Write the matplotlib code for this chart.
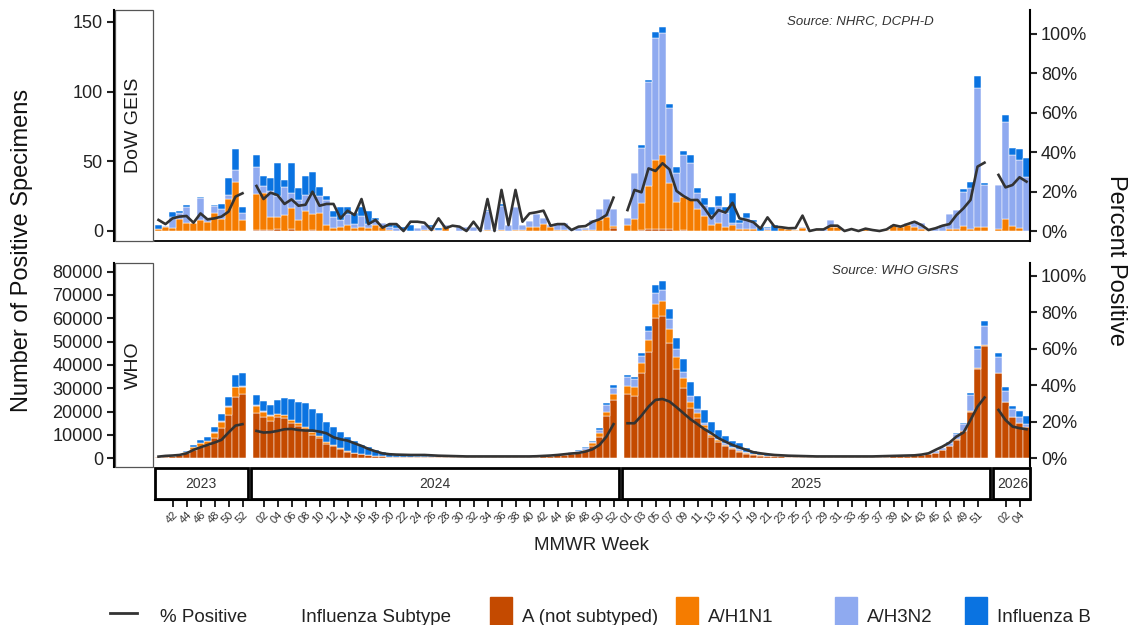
import numpy as np
import matplotlib.pyplot as plt
from matplotlib.patches import Rectangle
from matplotlib.lines import Line2D

plt.rcParams['font.family'] = ['Liberation Sans', 'DejaVu Sans']

W, H = 1130, 625

# seasons on the x axis: (year, first MMWR week, last MMWR week)
seasons = [(2023, 40, 52), (2024, 1, 52), (2025, 1, 52), (2026, 1, 5)]
tick_weeks = {2023: [42, 44, 46, 48, 50, 52],
              2024: list(range(2, 53, 2)),
              2025: list(range(1, 52, 2)),
              2026: [2, 4]}

subtypes = ['A (not subtyped)', 'A/H1N1', 'A/H3N2', 'Influenza B']
colors = ['#C44A00', '#F57C00', '#8FAAF0', '#0A73E1']

# ---- DoW GEIS (counts) : 2023 wk40-52 | 2024 wk1-52 | 2025 wk1-52 | 2026 wk1-5
geis_a = [
    0, 0, 0, 0, 0, 0, 0, 0, 0, 0, 0, 0, 0,
    1, 1, 0.7, 1.2, 0, 1.2, 0, 0, 0.7, 0,
    0, 0, 0, 0, 0, 0, 0, 0, 0, 0,
    0, 0, 0, 0, 0, 0, 0, 0, 0, 0,
    0, 0, 0, 0, 0, 0, 0, 0, 0, 0,
    0, 0, 0, 0, 0, 0, 0, 0, 0, 0,
    0, 2,
    0, 0, 0.7, 1.2, 1.7, 1.7, 1.2, 0, 0.7, 0,
    0, 0, 0, 0, 0, 0, 0, 0, 0, 0,
    0, 0, 0, 0, 0, 0, 0, 0, 0, 0,
    0, 0, 0, 0, 0, 0, 0, 0, 0, 0,
    0, 0, 0, 0, 0, 0, 0, 0, 0, 0,
    0, 0,
    0, 0, 0, 0, 0]
geis_h1n1 = [
    1.2, 3.0, 2.4, 8.6, 6.0, 6.0, 7.9, 6.7, 12.7, 8.6, 22.7, 35.4, 7.9,
    25.6, 26.5, 9.3, 9.1, 11.5, 15.1, 7.9, 14.6, 11.3, 12.7,
    4.3, 1.9, 3.1, 4.3, 2.0, 3.0, 2.0, 4.0, 3.0, 1.0,
    0, 0, 0, 0, 1.0, 1.0, 0, 3.0, 0, 0,
    0, 0, 0, 1.0, 0, 1.0, 0, 1.0, 1.0, 3.0,
    3.0, 5.0, 3.0, 1.0, 1.0, 0, 0, 1.0, 1.0, 8.0,
    10.0, 1.5,
    4.3, 8.4, 19.1, 31.1, 49.3, 52.6, 33.0, 21.1, 23.9, 22.7,
    15.6, 10.8, 4.3, 5.5, 2.6, 4.3, 1.7, 1.7, 1.5, 0,
    1.0, 0, 1.9, 1.4, 0.7, 1.9, 0, 0.5, 0, 3.1,
    2.6, 0, 0, 0.5, 1.7, 0, 0, 0.5, 4.3, 3.0,
    4.0, 3.0, 1.7, 0.5, 0, 0, 1.7, 1.7, 3.6, 1.7,
    2.6, 2.6,
    1.2, 8.4, 3.6, 1.9, 0]
geis_h3n2 = [
    0, 0.6, 7.9, 4.5, 11.5, 0, 15.5, 2.5, 5.5, 7.2, 3.1, 8.4, 4.8,
    19.1, 4.8, 18.7, 14.8, 20.0, 10.8, 14.4, 11.2, 14.4, 12.7,
    18.0, 8.4, 4.8, 8.0, 3.0, 8.0, 3.0, 4.0, 3.0, 2.0,
    2.0, 1.0, 0, 2.0, 3.0, 2.0, 1.0, 1.0, 0, 3.0,
    3.0, 3.0, 1.0, 13.0, 1.0, 17.0, 4.0, 16.0, 3.0, 4.0,
    9.0, 4.0, 1.0, 5.0, 5.0, 0.5, 2.0, 1.0, 7.0, 8.0,
    13.0, 12.0,
    4.8, 33.0, 39.5, 74.9, 87.3, 88.0, 53.8, 20.8, 29.7, 25.8,
    12.0, 7.9, 7.2, 12.4, 10.0, 1.7, 4.3, 7.4, 5.0, 0,
    1.0, 0, 0, 0, 0, 1.2, 0.7, 0.7, 1.4, 4.8,
    0, 0.5, 0, 0.5, 0, 0.5, 0.5, 0.5, 0, 1.3,
    2.0, 4.4, 4.3, 0.2, 1.9, 4.3, 10.5, 13.4, 24.6, 29.0,
    99.8, 30.4,
    31.8, 70.0, 51.0, 49.0, 39.0]
geis_b = [
    3.1, 0, 3.4, 1.2, 1.2, 0, 0.8, 0, 0.5, 3.8, 12.0, 14.8, 4.8,
    8.9, 7.2, 9.1, 23.4, 4.8, 21.5, 8.4, 13.6, 15.6, 6.0,
    3.1, 4.0, 9.6, 5.0, 8.0, 6.0, 9.0, 1.0, 0, 2.0,
    2.0, 2.0, 4.0, 0, 0, 1.0, 1.0, 0, 0, 0,
    0, 0, 0, 1.0, 0, 1.0, 0, 0, 0, 0,
    0, 0, 0, 0, 0, 1.0, 0, 0, 0, 0,
    0, 0,
    0, 0.5, 2.4, 1.2, 4.3, 3.8, 3.1, 4.3, 3.3, 5.7,
    3.1, 4.8, 6.0, 7.4, 4.8, 21.5, 1.9, 3.6, 1.4, 3.1,
    0.6, 4.3, 0, 0, 0, 0, 0, 0, 0, 0,
    0, 0, 0, 0, 0, 0, 0, 0, 0, 0,
    0, 0, 0, 0, 0, 0, 0, 0, 1.7, 4.8,
    8.9, 1.7,
    0, 4.8, 5.3, 7.9, 13.6]
geis_pct = [
    5.6, 3.5, 6.4, 7.3, 7.6, 4.2, 8.9, 5.9, 6.4, 7.3, 9.8, 17.4, 19.1,
    22.8, 16.2, 19.4, 18.2, 13.7, 16.0, 12.8, 13.3, 19.9, 12.8,
    13.7, 13.7, 6.4, 10.3, 8.1, 16.2, 3.5, 5.6, 1.7, 3.5,
    3.5, 0, 4.7, 4.7, 4.2, 0.5, 6.4, 1.4, 2.7, 2.2,
    0, 4.7, 0, 16.2, 0, 20.8, 3.0, 20.8, 4.7, 8.9,
    9.5, 10.3, 2.7, 3.5, 3.5, 0.5, 2.2, 2.5, 4.7, 5.9,
    8.1, 16.9,
    10.6, 20.8, 19.6, 31.7, 30.4, 34.3, 31.2, 20.3, 17.7, 15.7,
    15.7, 11.5, 6.4, 10.6, 9.3, 14.3, 6.4, 5.6, 4.4, 1.2,
    6.9, 2.2, 1.9, 1.4, 1.5, 7.8, 0, 0.8, 0.8, 2.7,
    2.7, 0, 1.0, 0, 1.2, 0.5, 0, 0.8, 3.0, 2.2,
    3.5, 4.7, 3.0, 0.5, 1.4, 2.7, 3.5, 8.1, 11.5, 15.7,
    32.6, 34.6,
    28.4, 22.1, 23.3, 27.2, 25.0]

# ---- WHO GISRS (counts)
who_a = [
    500, 700, 900, 1200, 2200, 3570, 5000, 5714, 8571, 12860, 18570, 26430, 27570,
    19560, 17860, 16140, 17570, 17140, 15290, 13860, 12430, 10000, 8570,
    6140, 5290, 3860, 2860, 2140, 1860, 1430, 1070, 870, 700,
    670, 630, 600, 580, 600, 580, 550, 520, 500, 480,
    480, 470, 470, 470, 480, 500, 520, 550, 600, 650,
    720, 840, 980, 1240, 1500, 2000, 2400, 3200, 5420, 9290,
    18290, 25010,
    27430, 26710, 36430, 45710, 60000, 61000, 49280, 38150, 29990, 21420,
    17150, 12850, 9290, 7140, 5290, 3860, 2860, 2000, 1500, 1100,
    1010, 900, 780, 750, 700, 670, 650, 620, 600, 600,
    600, 600, 600, 620, 650, 650, 700, 750, 820, 900,
    1000, 1200, 1400, 1900, 2430, 3570, 5230, 8000, 11560, 20000,
    38140, 48290,
    36420, 24090, 17760, 15190, 13470]
who_h1n1 = [
    100, 150, 200, 250, 400, 1140, 1430, 1710, 2430, 2860, 3570, 4000, 3140,
    2860, 2140, 2000, 1430, 1430, 1140, 1140, 1140, 1430, 1000,
    1000, 430, 430, 290, 290, 0, 0, 0, 0, 0,
    0, 0, 0, 0, 0, 0, 0, 0, 0, 0,
    0, 0, 0, 0, 0, 0, 0, 0, 0, 0,
    0, 0, 0, 0, 0, 160, 300, 400, 1000, 1430,
    1710, 2570,
    3570, 3710, 4290, 5000, 6140, 6570, 6000, 5430, 4290, 2860,
    2140, 1430, 850, 570, 560, 420, 420, 270, 140, 140,
    0, 0, 0, 0, 0, 0, 0, 0, 0, 0,
    0, 0, 0, 0, 0, 0, 0, 0, 0, 0,
    0, 0, 0, 0, 0, 0, 0, 270, 300, 150,
    430, 290,
    300, 200, 100, 100, 100]
who_h3n2 = [
    50, 50, 80, 100, 200, 200, 200, 200, 300, 300, 300, 300, 300,
    430, 300, 300, 0, 0, 0, 0, 0, 0, 0,
    0, 0, 0, 0, 0, 0, 0, 0, 0, 0,
    0, 0, 0, 0, 0, 0, 0, 0, 0, 0,
    0, 0, 0, 0, 0, 0, 0, 0, 0, 0,
    0, 0, 0, 0, 200, 400, 570, 710, 710, 1430,
    2860, 2710,
    3710, 3430, 3140, 3860, 4860, 4570, 4290, 3140, 2860, 2430,
    1710, 1000, 570, 570, 570, 430, 570, 300, 200, 100,
    100, 80, 60, 0, 0, 0, 0, 0, 0, 0,
    0, 0, 0, 0, 0, 50, 50, 100, 130, 190,
    240, 300, 360, 430, 570, 860, 1430, 2140, 3000, 7140,
    8290, 8140,
    6570, 4710, 3140, 2570, 1140]
who_b = [
    64, 100, 106, 164, 343, 804, 1227, 1662, 1985, 2980, 3990, 4980, 5420,
    4290, 4290, 4290, 6000, 7430, 8860, 9000, 10000, 9570, 9710,
    8570, 7860, 7140, 6140, 5000, 3850, 3280, 2500, 1700, 1160,
    900, 800, 690, 560, 540, 420, 400, 380, 350, 320,
    300, 280, 260, 250, 240, 240, 240, 250, 250, 270,
    280, 300, 310, 330, 300, 300, 300, 400, 300, 710,
    710, 1000,
    860, 860, 1140, 2140, 3290, 3860, 4430, 4710, 5290, 5860,
    5710, 5430, 5000, 3860, 3290, 2860, 2860, 2000, 1300, 800,
    600, 450, 300, 250, 200, 180, 150, 130, 120, 100,
    100, 100, 100, 100, 100, 50, 50, 50, 50, 50,
    50, 70, 100, 100, 140, 140, 200, 300, 430, 570,
    1430, 2140,
    1710, 1710, 1430, 2430, 3430]
who_pct = [
    0.9, 1.3, 1.5, 1.8, 2.7, 4.6, 6.0, 7.3, 8.6, 10.1, 14.1, 17.9, 18.7,
    15.0, 14.1, 14.3, 15.0, 15.9, 16.1, 15.5, 15.2, 15.2, 14.6,
    13.7, 11.5, 10.4, 9.7, 8.2, 6.8, 5.1, 3.8, 2.7, 2.2,
    2.0, 1.9, 1.8, 1.8, 1.8, 1.6, 1.4, 1.3, 1.2, 1.1,
    1.0, 1.0, 1.0, 1.0, 1.0, 1.0, 1.0, 1.0, 1.0, 1.0,
    1.1, 1.3, 1.5, 1.8, 2.2, 2.6, 2.9, 3.7, 4.9, 7.3,
    11.9, 18.7,
    19.2, 19.2, 23.4, 28.3, 32.0, 32.5, 31.1, 28.0, 24.7, 21.4,
    18.7, 15.9, 13.7, 11.0, 9.1, 7.3, 5.9, 4.6, 3.3, 2.7,
    2.2, 1.8, 1.6, 1.4, 1.3, 1.2, 1.1, 1.0, 1.0, 1.0,
    1.0, 1.0, 1.0, 1.0, 1.0, 1.0, 1.1, 1.2, 1.3, 1.4,
    1.5, 1.6, 2.0, 2.7, 4.6, 6.4, 8.6, 11.9, 14.1, 21.0,
    28.3, 33.3,
    26.5, 21.0, 17.4, 16.5, 15.9]

# x positions: one slot per week, one empty slot between years
xpos, seg = [], []
start = 0
for yr, w0, w1 in seasons:
    n = w1 - w0 + 1
    seg.append((yr, start, start + n - 1, w0))
    xpos += list(range(start, start + n))
    start += n + 1
xpos = np.array(xpos)
xmin, xmax = -0.5, xpos[-1] + 0.5


def px(x0, y0, x1, y1):
    return [x0 / W, 1 - y1 / H, (x1 - x0) / W, (y1 - y0) / H]


fig = plt.figure(figsize=(W / 100, H / 100), dpi=100)


def panel(rect, lab_rect, stacks, pct, ylim, plim, yticks, label, bottom_line):
    ax = fig.add_axes(px(*rect))
    base = np.zeros(len(xpos))
    for vals, col in zip(stacks, colors):
        vals = np.asarray(vals, float)
        ax.bar(xpos, vals, bottom=base, width=0.88, color=col,
               edgecolor='white', linewidth=0.35)
        base += vals
    ax.set_xlim(xmin, xmax)
    ax.set_ylim(*ylim)
    for s in ax.spines.values():
        s.set_visible(False)
    if bottom_line:
        ax.spines['bottom'].set_visible(True)
        ax.spines['bottom'].set_linewidth(1.3)

    ax2 = ax.twinx()
    pct = np.asarray(pct, float)
    for yr, i0, i1, w0 in seg:
        m = (xpos >= i0) & (xpos <= i1)
        ax2.plot(xpos[m], pct[m], color='#333333', lw=1.9)
    ax2.set_ylim(*plim)
    ax2.set_yticks([0, 20, 40, 60, 80, 100])
    ax2.set_yticklabels([f'{v}%' for v in [0, 20, 40, 60, 80, 100]])
    for k, s in ax2.spines.items():
        s.set_visible(k == 'right')
    ax2.spines['right'].set_linewidth(1.5)
    ax2.tick_params(axis='y', direction='out', length=5, width=1.5,
                    labelsize=13, pad=3, colors='#222222', left=False)
    ax2.tick_params(axis='x', bottom=False, labelbottom=False)
    # twinx turns the left ticks of the bar axes back on
    ax.tick_params(left=False, labelleft=False, bottom=False,
                   labelbottom=False, right=False, labelright=False)

    axl = fig.add_axes(px(*lab_rect))
    axl.set_ylim(*ylim)
    axl.set_xlim(0, 1)
    axl.set_yticks(yticks)
    axl.set_xticks([])
    for k, s in axl.spines.items():
        s.set_visible(k == 'left')
    axl.spines['left'].set_linewidth(1.5)
    axl.tick_params(axis='y', direction='out', length=5, width=1.5,
                    labelsize=13, pad=3, colors='#222222')
    axl.add_patch(Rectangle((0.03, 0.0), 0.96, 1.0, transform=axl.transAxes,
                            fill=False, ec='#555555', lw=0.9, clip_on=False))
    axl.text(0.5, 0.5, label, transform=axl.transAxes, rotation=90,
             ha='center', va='center', fontsize=14, color='#1a1a1a')
    return ax, ax2


panel((155, 10, 1030, 241), (114, 10, 153, 241),
      [geis_a, geis_h1n1, geis_h3n2, geis_b], geis_pct,
      (-7.2, 158.6), (-5.06, 111.9), [0, 50, 100, 150], 'DoW GEIS', True)
panel((155, 263, 1030, 467), (114, 263, 153, 467),
      [who_a, who_h1n1, who_h3n2, who_b], who_pct,
      (-3730, 83700), (-4.8, 107.1), list(range(0, 80001, 10000)), 'WHO', False)

# year strip with week ticks underneath
axs = fig.add_axes(px(155, 467, 1030, 500))
axs.set_xlim(xmin, xmax)
axs.set_ylim(0, 1)
axs.set_yticks([])
for k, s in axs.spines.items():
    s.set_visible(k == 'bottom')
axs.spines['bottom'].set_linewidth(1.5)
tx, tl = [], []
for yr, i0, i1, w0 in seg:
    left = max(i0 - 0.8, xmin + 0.05)
    right = min(i1 + 0.8, xmax - 0.05)
    axs.add_patch(Rectangle((left, 0.04), right - left, 0.92, fill=False,
                            ec='black', lw=2, clip_on=False))
    axs.text((i0 + i1) / 2, 0.5, str(yr), ha='center', va='center',
             fontsize=10, color='#333333')
    for w in tick_weeks[yr]:
        tx.append(i0 + w - w0)
        tl.append(f'{w:02d}')
axs.set_xticks(tx)
axs.set_xticklabels(tl, rotation=45, ha='right', rotation_mode='anchor',
                    fontsize=8, color='#333333')
axs.tick_params(axis='x', direction='out', length=5, width=1.2, pad=2)

fig.text(22 / W, 1 - 250 / H, 'Number of Positive Specimens', rotation=90,
         ha='center', va='center', fontsize=17, color='#111111')
fig.text(1116 / W, 1 - 260 / H, 'Percent Positive', rotation=270,
         ha='center', va='center', fontsize=17, color='#111111')
fig.text(592 / W, 1 - 545 / H, 'MMWR Week', ha='center', va='center',
         fontsize=13.5, color='#222222')
fig.text(787 / W, 1 - 22 / H, 'Source: NHRC, DCPH-D', ha='left', va='center',
         fontsize=9.5, style='italic', color='#333333')
fig.text(832 / W, 1 - 271 / H, 'Source: WHO GISRS', ha='left', va='center',
         fontsize=9.5, style='italic', color='#333333')

# legend along the bottom edge
ly = 1 - 613 / H
fig.add_artist(Line2D([110 / W, 137 / W], [ly, ly], color='#333333', lw=2))
fig.text(160 / W, 1 - 617 / H, '% Positive', ha='left', va='center',
         fontsize=13.5, color='#222222')
fig.text(301 / W, 1 - 617 / H, 'Influenza Subtype', ha='left', va='center',
         fontsize=13.5, color='#222222')
for x0, name, col in zip([490, 676, 835, 965], subtypes, colors):
    fig.add_artist(Rectangle((x0 / W, 1 - 640 / H), 22 / W, 43 / H,
                             transform=fig.transFigure, color=col))
    fig.text((x0 + 32) / W, 1 - 617 / H, name, ha='left', va='center',
             fontsize=13.5, color='#222222')

fig.savefig('out.png', dpi=100)
